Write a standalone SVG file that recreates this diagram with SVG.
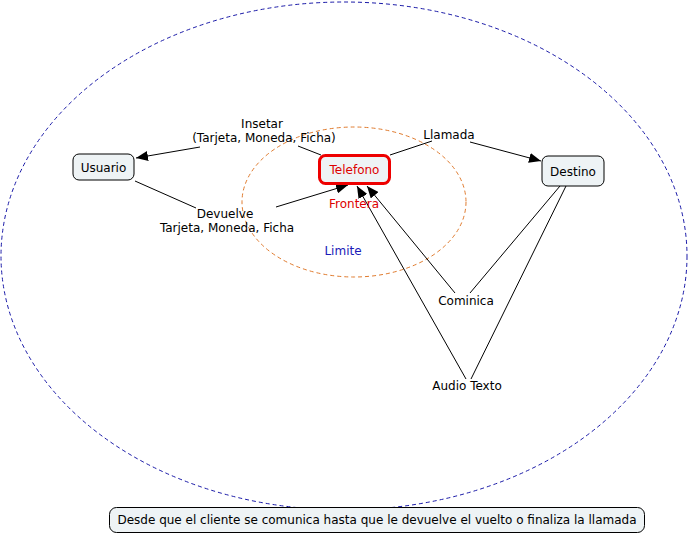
<svg xmlns="http://www.w3.org/2000/svg" width="688" height="536" viewBox="0 0 688 536">
<style>
text{font-family:Verdana,"DejaVu Sans",sans-serif;font-size:12px;text-anchor:middle;fill:#000}
.node{fill:#eef3f5;stroke:#000;stroke-width:1}
.conn line{stroke:#000;stroke-width:1}
</style>
<defs>
<marker id="ah" viewBox="0 0 12 10" refX="12" refY="5" markerWidth="12" markerHeight="10" markerUnits="userSpaceOnUse" orient="auto">
<path d="M0,0 L12,5 L0,10 z" fill="#000"/>
</marker>
</defs>
<rect width="688" height="536" fill="#fff"/>
<g id="limite-outer">
<ellipse cx="344" cy="256" rx="343" ry="254" fill="none" stroke="#1a1aa8" stroke-dasharray="4,3"/>
</g>
<g id="frontera-ellipse">
<ellipse cx="354" cy="202" rx="112" ry="75" fill="none" stroke="#e07b2e" stroke-dasharray="4,3"/>
</g>
<g class="conn" id="connectors">
<line x1="200" y1="147" x2="136" y2="158" marker-end="url(#ah)"/>
<line x1="321" y1="155" x2="298" y2="146"/>
<line x1="390" y1="155" x2="432" y2="141"/>
<line x1="470" y1="142" x2="541" y2="161" marker-end="url(#ah)"/>
<line x1="135" y1="181" x2="196" y2="208"/>
<line x1="276" y1="207" x2="348" y2="185" marker-end="url(#ah)"/>
<line x1="455" y1="293" x2="367" y2="186" marker-end="url(#ah)"/>
<line x1="470" y1="293" x2="560" y2="186"/>
<line x1="466" y1="379" x2="357" y2="186" marker-end="url(#ah)"/>
<line x1="471" y1="379" x2="566" y2="186"/>
</g>
<g id="usuario">
<rect class="node" x="73" y="154" width="61" height="26" rx="6"/>
<text x="103.5" y="171.5">Usuario</text>
</g>
<g id="telefono">
<rect x="319.5" y="155.5" width="70" height="28" rx="6" fill="#eef3f5" stroke="#e00" stroke-width="3"/>
<text x="354.5" y="173.5" style="fill:#d00">Telefono</text>
</g>
<g id="destino">
<rect class="node" x="542" y="156" width="62" height="30" rx="6"/>
<text x="573" y="175.5">Destino</text>
</g>
<g id="insetar">
<text x="262" y="128">Insetar</text>
<text x="264" y="142">(Tarjeta, Moneda, Ficha)</text>
</g>
<g id="llamada"><text x="449" y="139">Llamada</text></g>
<g id="devuelve">
<text x="225" y="218">Devuelve</text>
<text x="227" y="232">Tarjeta, Moneda, Ficha</text>
</g>
<g id="frontera"><text x="354" y="208" style="fill:#d00">Frontera</text></g>
<g id="limite"><text x="343" y="255" style="fill:#1a1ab8">Limite</text></g>
<g id="cominica"><text x="466" y="305">Cominica</text></g>
<g id="audio"><text x="467" y="390">Audio Texto</text></g>
<g id="footer">
<rect class="node" x="109.5" y="507.5" width="535" height="25" rx="7"/>
<text x="377" y="524">Desde que el cliente se comunica hasta que le devuelve el vuelto o finaliza la llamada</text>
</g>
</svg>
